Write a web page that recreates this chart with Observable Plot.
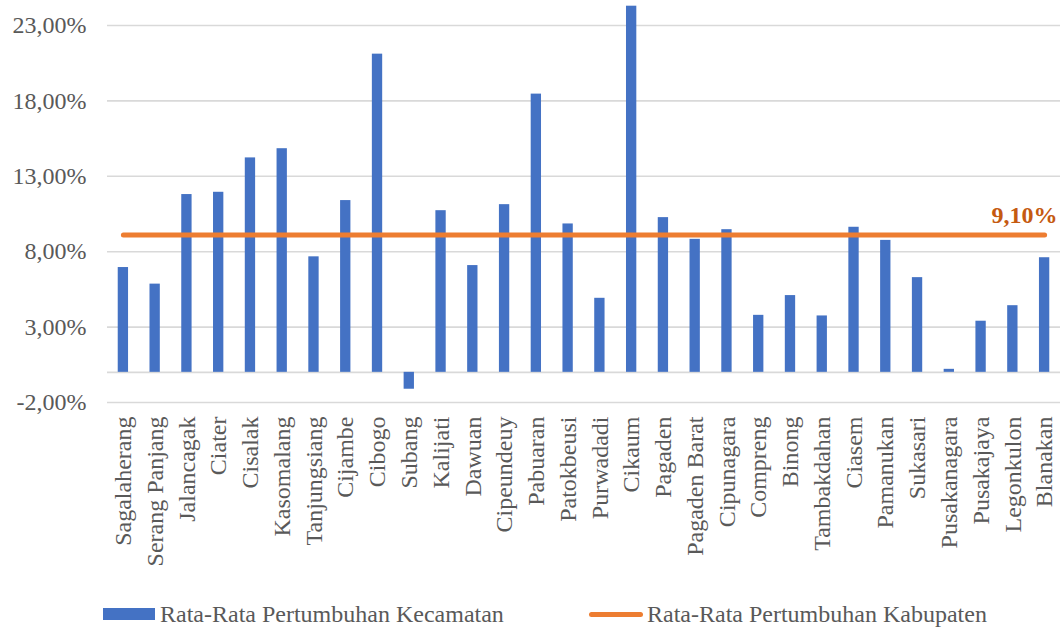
<!DOCTYPE html>
<html>
<head>
<meta charset="utf-8">
<script src="https://cdn.jsdelivr.net/npm/d3@7"></script>
<script src="https://cdn.jsdelivr.net/npm/@observablehq/plot@0.6"></script>
<style>
  html, body { margin: 0; padding: 0; background: #fff; }
  #wrap { position: relative; width: 1061px; height: 628px; overflow: hidden; font-family: "Liberation Serif", "Times New Roman", serif; }
  .leg { position: absolute; top: 600px; height: 28px; display: flex; align-items: center; font-size: 24px; color: #595959; white-space: nowrap; }
  .sw-bar { width: 52px; height: 12px; background: #4472C4; margin-right: 5px; }
  .sw-line { width: 54px; height: 5px; border-radius: 3px; background: #ED7D31; margin-right: 4px; }
</style>
</head>
<body>
<div id="wrap">
  <div id="chart"></div>
  <div class="leg" style="left:103px"><div class="sw-bar"></div><span id="l1"></span></div>
  <div class="leg" style="left:589px"><div class="sw-line"></div><span id="l2"></span></div>
</div>
<script>
const kecamatan = ["Sagalaherang","Serang Panjang","Jalancagak","Ciater","Cisalak","Kasomalang","Tanjungsiang","Cijambe","Cibogo","Subang","Kalijati","Dawuan","Cipeundeuy","Pabuaran","Patokbeusi","Purwadadi","Cikaum","Pagaden","Pagaden Barat","Cipunagara","Compreng","Binong","Tambakdahan","Ciasem","Pamanukan","Sukasari","Pusakanagara","Pusakajaya","Legonkulon","Blanakan"];
const pertumbuhanKecamatan = [6.95,5.85,11.79,11.94,14.22,14.83,7.66,11.39,21.10,-1.12,10.72,7.08,11.12,18.45,9.84,4.91,24.28,10.26,8.82,9.46,3.78,5.09,3.74,9.62,8.75,6.28,0.20,3.39,4.42,7.60];
const pertumbuhanKabupaten = 9.10;
const yTicks = [-2, 3, 8, 13, 18, 23];
const seriesNames = ["Rata-Rata Pertumbuhan Kecamatan", "Rata-Rata Pertumbuhan Kabupaten"];

const fmt = d => d.toFixed(2).replace(".", ",") + "%";

const bars = kecamatan.map((k, i) => ({k, v: pertumbuhanKecamatan[i]}));
const avgLine = kecamatan.map(k => ({k, v: pertumbuhanKabupaten}));
const last = [avgLine[avgLine.length - 1]];

const chart = Plot.plot({
  width: 1061,
  height: 598,
  marginLeft: 107,
  marginRight: 1,
  marginTop: 25,
  marginBottom: 196,
  style: {fontFamily: "'Liberation Serif', 'Times New Roman', serif", fontSize: "24px", color: "#595959", overflow: "visible"},
  x: {domain: kecamatan, type: "band", paddingInner: 0.675, paddingOuter: 0.3375, round: false},
  y: {domain: [-2, 23]},
  marks: [
    Plot.ruleY(yTicks, {stroke: "#D9D9D9", strokeWidth: 1.6}),
    Plot.ruleY([0], {stroke: "#D9D9D9", strokeWidth: 1.6}),
    Plot.barY(bars, {x: "k", y: "v", fill: "#4472C4"}),
    Plot.lineY(avgLine, {x: "k", y: "v", stroke: "#ED7D31", strokeWidth: 5, strokeLinecap: "round"}),
    Plot.text(last, {x: "k", y: "v", text: d => fmt(d.v), fill: "#C55A11", fontWeight: "bold", fontSize: 24, textAnchor: "end", lineAnchor: "bottom", dx: 13, dy: -12}),
    Plot.axisY({ticks: yTicks, tickFormat: fmt, tickSize: 0, tickPadding: 21, fontSize: 24, fill: "#595959", label: null}),
    Plot.axisX({tickSize: 0, tickRotate: -90, tickPadding: 14, fontSize: 24, fill: "#595959", label: null})
  ]
});
document.getElementById("chart").appendChild(chart);
document.getElementById("l1").textContent = seriesNames[0];
document.getElementById("l2").textContent = seriesNames[1];
</script>
</body>
</html>
